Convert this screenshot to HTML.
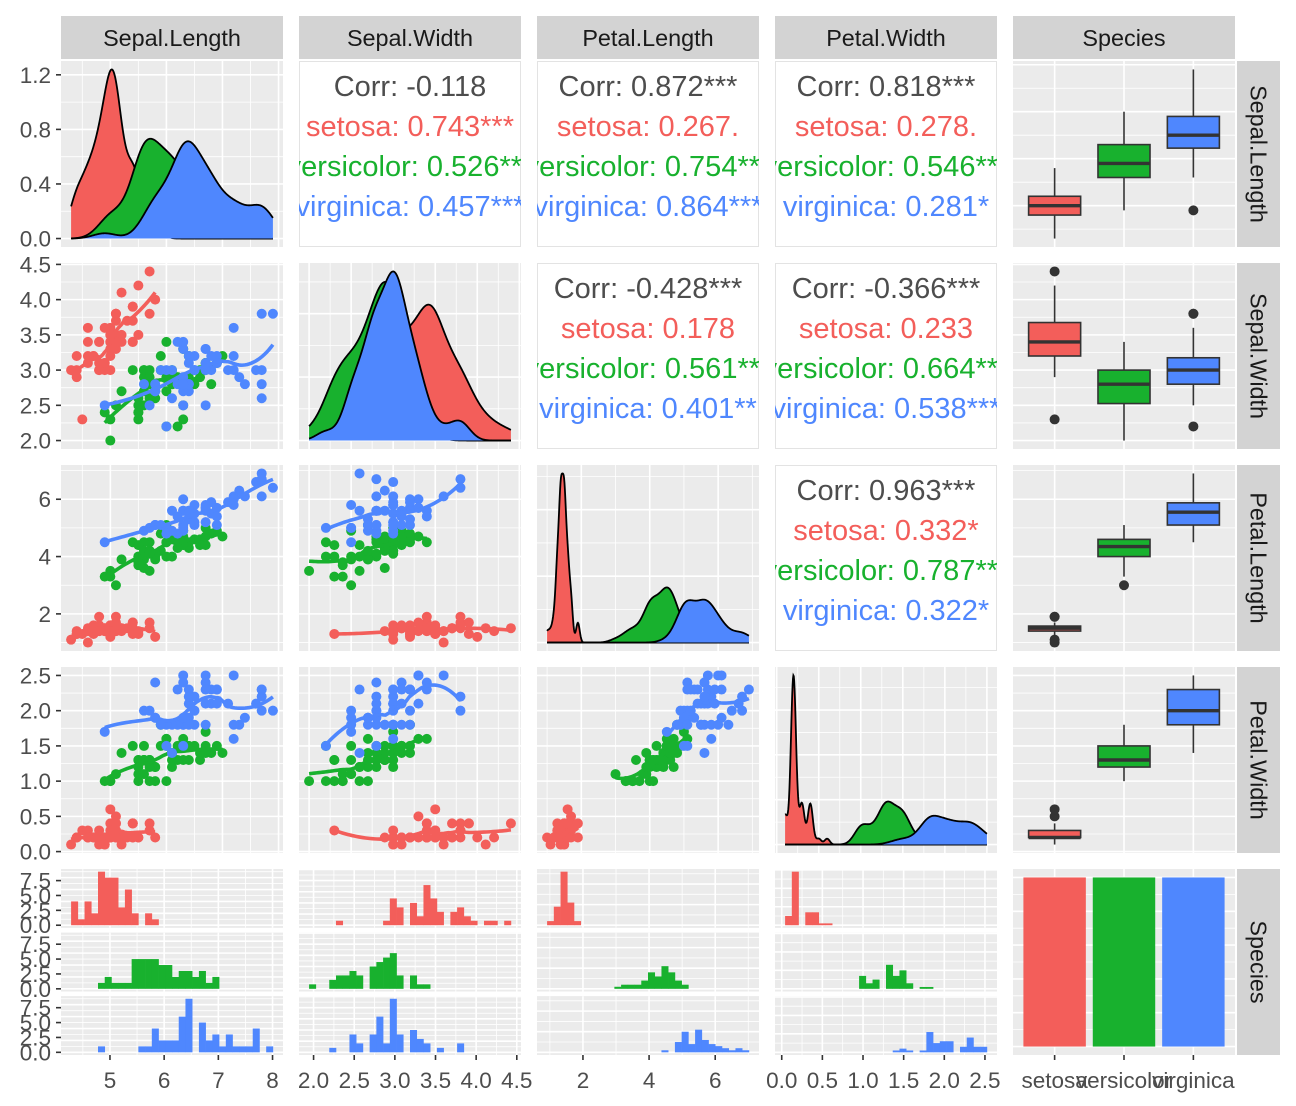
<!DOCTYPE html>
<html><head><meta charset="utf-8"><style>
html,body{margin:0;padding:0;background:#fff;}
svg{display:block;font-family:"Liberation Sans",Arial,sans-serif;}
</style></head><body>
<svg id="chart" width="1296" height="1106" viewBox="0 0 1296 1106" xmlns="http://www.w3.org/2000/svg"></svg>
<script>
// ---------------- data (iris) ----------------
const sepalLength=[5.1,4.9,4.7,4.6,5.0,5.4,4.6,5.0,4.4,4.9,5.4,4.8,4.8,4.3,5.8,5.7,5.4,5.1,5.7,5.1,5.4,5.1,4.6,5.1,4.8,5.0,5.0,5.2,5.2,4.7,4.8,5.4,5.2,5.5,4.9,5.0,5.5,4.9,4.4,5.1,5.0,4.5,4.4,5.0,5.1,4.8,5.1,4.6,5.3,5.0,
7.0,6.4,6.9,5.5,6.5,5.7,6.3,4.9,6.6,5.2,5.0,5.9,6.0,6.1,5.6,6.7,5.6,5.8,6.2,5.6,5.9,6.1,6.3,6.1,6.4,6.6,6.8,6.7,6.0,5.7,5.5,5.5,5.8,6.0,5.4,6.0,6.7,6.3,5.6,5.5,5.5,6.1,5.8,5.0,5.6,5.7,5.7,6.2,5.1,5.7,
6.3,5.8,7.1,6.3,6.5,7.6,4.9,7.3,6.7,7.2,6.5,6.4,6.8,5.7,5.8,6.4,6.5,7.7,7.7,6.0,6.9,5.6,7.7,6.3,6.7,7.2,6.2,6.1,6.4,7.2,7.4,7.9,6.4,6.3,6.1,7.7,6.3,6.4,6.0,6.9,6.7,6.9,5.8,6.8,6.7,6.7,6.3,6.5,6.2,5.9];
const sepalWidth=[3.5,3.0,3.2,3.1,3.6,3.9,3.4,3.4,2.9,3.1,3.7,3.4,3.0,3.0,4.0,4.4,3.9,3.5,3.8,3.8,3.4,3.7,3.6,3.3,3.4,3.0,3.4,3.5,3.4,3.2,3.1,3.4,4.1,4.2,3.1,3.2,3.5,3.6,3.0,3.4,3.5,2.3,3.2,3.5,3.8,3.0,3.8,3.2,3.7,3.3,
3.2,3.2,3.1,2.3,2.8,2.8,3.3,2.4,2.9,2.7,2.0,3.0,2.2,2.9,2.9,3.1,3.0,2.7,2.2,2.5,3.2,2.8,2.5,2.8,2.9,3.0,2.8,3.0,2.9,2.6,2.4,2.4,2.7,2.7,3.0,3.4,3.1,2.3,3.0,2.5,2.6,3.0,2.6,2.3,2.7,3.0,2.9,2.9,2.5,2.8,
3.3,2.7,3.0,2.9,3.0,3.0,2.5,2.9,2.5,3.6,3.2,2.7,3.0,2.5,2.8,3.2,3.0,3.8,2.6,2.2,3.2,2.8,2.8,2.7,3.3,3.2,2.8,3.0,2.8,3.0,2.8,3.8,2.8,2.8,2.6,3.0,3.4,3.1,3.0,3.1,3.1,3.1,2.7,3.2,3.3,3.0,2.5,3.0,3.4,3.0];
const petalLength=[1.4,1.4,1.3,1.5,1.4,1.7,1.4,1.5,1.4,1.5,1.5,1.6,1.4,1.1,1.2,1.5,1.3,1.4,1.7,1.5,1.7,1.5,1.0,1.7,1.9,1.6,1.6,1.5,1.4,1.6,1.6,1.5,1.5,1.4,1.5,1.2,1.3,1.4,1.3,1.5,1.3,1.3,1.3,1.6,1.9,1.4,1.6,1.4,1.5,1.4,
4.7,4.5,4.9,4.0,4.6,4.5,4.7,3.3,4.6,3.9,3.5,4.2,4.0,4.7,3.6,4.4,4.5,4.1,4.5,3.9,4.8,4.0,4.9,4.7,4.3,4.4,4.8,5.0,4.5,3.5,3.8,3.7,3.9,5.1,4.5,4.5,4.7,4.4,4.1,4.0,4.4,4.6,4.0,3.3,4.2,4.2,4.2,4.3,3.0,4.1,
6.0,5.1,5.9,5.6,5.8,6.6,4.5,6.3,5.8,6.1,5.1,5.3,5.5,5.0,5.1,5.3,5.5,6.7,6.9,5.0,5.7,4.9,6.7,4.9,5.7,6.0,4.8,4.9,5.6,5.8,6.1,6.4,5.6,5.1,5.6,6.1,5.6,5.5,4.8,5.4,5.6,5.1,5.1,5.9,5.7,5.2,5.0,5.2,5.4,5.1];
const petalWidth=[0.2,0.2,0.2,0.2,0.2,0.4,0.3,0.2,0.2,0.1,0.2,0.2,0.1,0.1,0.2,0.4,0.4,0.3,0.3,0.3,0.2,0.4,0.2,0.5,0.2,0.2,0.4,0.2,0.2,0.2,0.2,0.4,0.1,0.2,0.2,0.2,0.2,0.1,0.2,0.2,0.3,0.3,0.2,0.6,0.4,0.3,0.2,0.2,0.2,0.2,
1.4,1.5,1.5,1.3,1.5,1.3,1.6,1.0,1.3,1.4,1.0,1.5,1.0,1.4,1.3,1.4,1.5,1.0,1.5,1.1,1.8,1.3,1.5,1.2,1.3,1.4,1.4,1.7,1.5,1.0,1.1,1.0,1.2,1.6,1.5,1.6,1.5,1.3,1.3,1.3,1.2,1.4,1.2,1.0,1.3,1.2,1.3,1.3,1.1,1.3,
2.5,1.9,2.1,1.8,2.2,2.1,1.7,1.8,1.8,2.5,2.0,1.9,2.1,2.0,2.4,2.3,1.8,2.2,2.3,1.5,2.3,2.0,2.0,1.8,2.1,1.8,1.8,1.8,2.1,1.6,1.9,2.0,2.2,1.5,1.4,2.3,2.4,1.8,1.8,2.1,2.4,2.3,1.9,2.3,2.5,2.3,1.9,2.0,2.3,1.8];
const speciesNames=["setosa","versicolor","virginica"];
const speciesCounts=[50,50,50];
const varNames=["Sepal.Length","Sepal.Width","Petal.Length","Petal.Width","Species"];
const corrTotal={"0,1":"Corr: -0.118","0,2":"Corr: 0.872***","0,3":"Corr: 0.818***","1,2":"Corr: -0.428***","1,3":"Corr: -0.366***","2,3":"Corr: 0.963***"};
const corrGroups={"0,1":["setosa: 0.743***","versicolor: 0.526***","virginica: 0.457***"],
"0,2":["setosa: 0.267.","versicolor: 0.754***","virginica: 0.864***"],
"0,3":["setosa: 0.278.","versicolor: 0.546***","virginica: 0.281*"],
"1,2":["setosa: 0.178","versicolor: 0.561***","virginica: 0.401**"],
"1,3":["setosa: 0.233","versicolor: 0.664***","virginica: 0.538***"],
"2,3":["setosa: 0.332*","versicolor: 0.787***","virginica: 0.322*"]};
</script>
<script>
const NS='http://www.w3.org/2000/svg';
const svg=document.getElementById('chart');
const COLORS=['#F35E5A','#18B12E','#4F87FE'];
const vars=[sepalLength,sepalWidth,petalLength,petalWidth];
const species=[];speciesCounts.forEach((c,i)=>{for(let k=0;k<c;k++)species.push(i);});
const colX=[61,299,537,775,1013],rowY=[61,263,465,667,869],PW_=222,PH=186;
const TICKF=22.5,STRIPF=23.4,CORRF=29;
function mk(tag,attrs,parent){const e=document.createElementNS(NS,tag);for(const k in attrs)e.setAttribute(k,attrs[k]);(parent||svg).appendChild(e);return e;}
function lin(d0,d1,r0,r1){return v=>r0+(v-d0)/(d1-d0)*(r1-r0);}
function rng(a){return [Math.min(...a),Math.max(...a)];}
function expand(lo,hi){const d=(hi-lo)*0.05;return [lo-d,hi+d];}
function groupVals(v,g){return v.filter((_,i)=>species[i]===g);}
function pretty(lo,hi){const raw=(hi-lo)/4;const p=Math.pow(10,Math.floor(Math.log10(raw)));let st=p;for(const m of [1,2,2.5,5,10]){if(m*p>=raw*0.75){st=m*p;break;}}const b=[];for(let v=Math.ceil(lo/st-1e-9)*st;v<=hi+1e-9;v+=st)b.push(+v.toFixed(10));return b;}
function minors(b,lo,hi){const m=[];const st=b[1]-b[0];const all=[b[0]-st/2,...b.map(x=>x+st/2)];all.forEach(v=>{if(v>lo&&v<hi)m.push(v);});return m;}
function fmt(b){const st=b.length>1?b[1]-b[0]:1;const dec=(Math.abs(st-Math.round(st))<1e-9 && b.every(x=>Math.abs(x-Math.round(x))<1e-9))?0:(Math.abs(st*10-Math.round(st*10))<1e-9?1:2);return b.map(x=>x.toFixed(dec));}
function quant(s,p){const h=(s.length-1)*p;const l=Math.floor(h);return s[l]+(h-l)*((s[Math.min(l+1,s.length-1)])-s[l]);}
let clipId=0;
function panel(x,y,w,h,name,xs,xb,xm,ys,yb,ym,bg){
  const g=mk('g',{});
  
  
  const id='c'+(clipId++);
  const cp=mk('clipPath',{id:id},g);mk('rect',{x:x,y:y,width:w,height:h},cp);
  const r=mk('rect',{x:x,y:y,width:w,height:h,fill:bg||'#EBEBEB'},g);
  
  
  const inner=mk('g',{'clip-path':'url(#'+id+')'},g);
  (xm||[]).forEach(v=>mk('line',{x1:xs(v),x2:xs(v),y1:y,y2:y+h,stroke:'#fff','stroke-width':0.8},inner));
  (ym||[]).forEach(v=>mk('line',{x1:x,x2:x+w,y1:ys(v),y2:ys(v),stroke:'#fff','stroke-width':0.8},inner));
  (xb||[]).forEach(v=>mk('line',{x1:xs(v),x2:xs(v),y1:y,y2:y+h,stroke:'#fff','stroke-width':1.6},inner));
  (yb||[]).forEach(v=>mk('line',{x1:x,x2:x+w,y1:ys(v),y2:ys(v),stroke:'#fff','stroke-width':1.6},inner));
  return inner;
}
function leftAxis(ys,b,labels,name){
  const g=mk('g',{});
  
  
  b.forEach((v,i)=>{mk('line',{x1:56,x2:61,y1:ys(v),y2:ys(v),stroke:'#333','stroke-width':1.6},g);
    const t=mk('text',{x:51,y:ys(v)+8,'text-anchor':'end','font-size':TICKF,fill:'#4D4D4D'},g);t.textContent=labels[i];});
}
function bottomAxis(xs,b,labels,name){
  const g=mk('g',{});
  
  
  b.forEach((v,i)=>{mk('line',{x1:xs(v),x2:xs(v),y1:1055,y2:1060,stroke:'#333','stroke-width':1.6},g);
    const t=mk('text',{x:xs(v),y:1088,'text-anchor':'middle','font-size':TICKF,fill:'#4D4D4D'},g);t.textContent=labels[i];});
}
// variable scales
const vr=vars.map(v=>rng(v));const ve=vr.map(r=>expand(r[0],r[1]));
const vb=[[5,6,7,8],[2,2.5,3,3.5,4,4.5],[2,4,6],[0,0.5,1,1.5,2,2.5]];
const vm=vb.map((b,i)=>minors(b,ve[i][0],ve[i][1]));
const xsc=ve.map((e,j)=>lin(e[0],e[1],colX[j],colX[j]+PW_));
const ysc=ve.map((e,i)=>lin(e[0],e[1],rowY[i]+PH,rowY[i]));
// histogram bin layout per variable (ggplot stat_bin bins=30)
const hb=vr.map(r=>{const w=(r[1]-r[0])/29;const start=Math.floor((r[0]-w/2)/w)*w+w/2;const nb=Math.ceil((r[1]-start)/w-1e-9);return {w:w,start:start,nb:nb,end:start+nb*w};});
const hxe=hb.map(h=>expand(h.start,h.end));
const hxs=hxe.map((e,j)=>lin(e[0],e[1],colX[j],colX[j]+PW_));
const hxm=vb.map((b,j)=>minors(b,hxe[j][0],hxe[j][1]));
// strips
varNames.forEach((n,j)=>{const r=mk('rect',{x:colX[j],y:16,width:PW_,height:43,fill:'#D3D3D3'});
  
  
  const t=mk('text',{x:colX[j]+PW_/2,y:46,'text-anchor':'middle','font-size':STRIPF,fill:'#1A1A1A'});t.textContent=n;
  
  
  const r2=mk('rect',{x:1237,y:rowY[j],width:43,height:PH,fill:'#D3D3D3'});
  
  
  const cx=1258.5,cy=rowY[j]+PH/2;
  const t2=mk('text',{x:cx,y:cy,'text-anchor':'middle','font-size':STRIPF,fill:'#1A1A1A',transform:`rotate(90 ${cx} ${cy}) translate(0 8)`});t2.textContent=n;
  
  
});
// KDE
function kde(v,xs){const n=v.length;const m=v.reduce((a,b)=>a+b)/n;const sd=Math.sqrt(v.reduce((a,b)=>a+(b-m)*(b-m),0)/(n-1));
  const s=[...v].sort((a,b)=>a-b);const iqr=quant(s,0.75)-quant(s,0.25);const bw=0.9*Math.min(sd,iqr/1.34)*Math.pow(n,-0.2);
  return xs.map(x=>{let t=0;v.forEach(a=>{const z=(x-a)/bw;t+=Math.exp(-0.5*z*z);});return t/(n*bw*Math.sqrt(2*Math.PI));});}
// loess
function loess(xv,yv,x0s){const n=xv.length;const q=Math.floor(0.75*n);
  return x0s.map(x0=>{const d=xv.map(x=>Math.abs(x-x0));const ds=[...d].sort((a,b)=>a-b);const dm=ds[q-1]||1e-9;
    let S=[[0,0,0],[0,0,0],[0,0,0]],B=[0,0,0];
    for(let i=0;i<n;i++){let u=d[i]/dm;if(u>=1)continue;const w=Math.pow(1-u*u*u,3);const t=xv[i]-x0;const p=[1,t,t*t];
      for(let a=0;a<3;a++){B[a]+=w*p[a]*yv[i];for(let b=0;b<3;b++)S[a][b]+=w*p[a]*p[b];}}
    const M=S.map((r,i)=>[...r,B[i]]);
    for(let c=0;c<3;c++){let p=c;for(let r=c+1;r<3;r++)if(Math.abs(M[r][c])>Math.abs(M[p][c]))p=r;[M[c],M[p]]=[M[p],M[c]];
      if(Math.abs(M[c][c])<1e-12)continue;for(let r=0;r<3;r++){if(r===c)continue;const f=M[r][c]/M[c][c];for(let k=c;k<4;k++)M[r][k]-=f*M[c][k];}}
    return M[0][3]/M[0][0];});}
const subTops=[869,932.6,996.1],subH=58.9;
for(let i=0;i<5;i++)for(let j=0;j<5;j++){
  const x=colX[j],y=rowY[i];
  if(i<4&&j<4&&i===j){
    const v=vars[j];const gx=[];for(let k=0;k<512;k++)gx.push(vr[j][0]+(vr[j][1]-vr[j][0])*k/511);
    const ds=[0,1,2].map(g=>kde(groupVals(v,g),gx));const mx=Math.max(...ds.flat());
    const ye=[-0.05*mx,mx*1.05];const ys=lin(ye[0],ye[1],y+PH,y);
    let yb=pretty(0,mx*1.05);if(j===0)yb=[0,0.4,0.8,1.2];
    const inner=panel(x,y,PW_,PH,'density-'+varNames[j].toLowerCase().replace('.','-'),xsc[j],vb[j],vm[j],ys,yb,minors(yb,ye[0],ye[1]));
    ds.forEach((d,g)=>{const pts=gx.map((gv,k)=>xsc[j](gv).toFixed(2)+','+ys(d[k]).toFixed(2));
      const pg=mk('polygon',{points:pts.join(' ')+' '+xsc[j](gx[511]).toFixed(2)+','+ys(0)+' '+xsc[j](gx[0]).toFixed(2)+','+ys(0),fill:COLORS[g]},inner);
      
      
      const pl=mk('polyline',{points:pts.join(' '),fill:'none',stroke:'#000','stroke-width':1.8},inner);
      
      });
    if(j===0)leftAxis(ys,yb,['0.0','0.4','0.8','1.2'],'y-axis-density');
  } else if(i<4&&j<4&&i>j){
    const inner=panel(x,y,PW_,PH,'scatter-'+i+'-'+j,xsc[j],vb[j],vm[j],ysc[i],vb[i],vm[i]);
    for(let g=0;g<3;g++){const xv=groupVals(vars[j],g),yv=groupVals(vars[i],g);
      xv.forEach((xx,k)=>{const c=mk('circle',{cx:xsc[j](xx),cy:ysc[i](yv[k]),r:5,fill:COLORS[g]},inner);
        
        });
      const r=rng(xv);const x0s=[];for(let k=0;k<80;k++)x0s.push(r[0]+(r[1]-r[0])*k/79);
      const fy=loess(xv,yv,x0s);
      const pl=mk('polyline',{points:x0s.map((xx,k)=>xsc[j](xx).toFixed(2)+','+ysc[i](fy[k]).toFixed(2)).join(' '),fill:'none',stroke:COLORS[g],'stroke-width':3.6},inner);
      
      }
  } else if(i<4&&j<4&&i<j){
    const g0=mk('g',{});
    
    
    const id='c'+(clipId++);const cp=mk('clipPath',{id:id},g0);mk('rect',{x:x,y:y,width:PW_,height:PH},cp);
    mk('rect',{x:x+0.5,y:y+0.5,width:PW_-1,height:PH-1,fill:'#fff',stroke:'#E3E3E3','stroke-width':1},g0);
    const inner=mk('g',{'clip-path':'url(#'+id+')'},g0);
    const key=i+','+j;const lines=[corrTotal[key],...corrGroups[key]];const cols=['#4D4D4D',...COLORS];
    lines.forEach((s,k)=>{const t=mk('text',{x:x+PW_/2,y:y+35+40*k,'text-anchor':'middle','font-size':CORRF,fill:cols[k]},inner);t.textContent=s;
      
      });
  } else if(j===4&&i<4){
    const cx=lin(0.4,3.6,x,x+PW_);
    const inner=panel(x,y,PW_,PH,'boxplot-'+varNames[i].toLowerCase().replace('.','-'),cx,[1,2,3],[],ysc[i],vb[i],vm[i]);
    for(let g=0;g<3;g++){const s=groupVals(vars[i],g).sort((a,b)=>a-b);
      const q1=quant(s,0.25),q2=quant(s,0.5),q3=quant(s,0.75),iq=q3-q1;
      const lo=s.find(v=>v>=q1-1.5*iq),hi=[...s].reverse().find(v=>v<=q3+1.5*iq);
      const c=cx(g+1),hw=0.375*(PW_/3.2);
      const bg=mk('g',{},inner);
      
      
      mk('line',{x1:c,x2:c,y1:ysc[i](hi),y2:ysc[i](q3),stroke:'#333','stroke-width':1.6},bg);
      mk('line',{x1:c,x2:c,y1:ysc[i](q1),y2:ysc[i](lo),stroke:'#333','stroke-width':1.6},bg);
      mk('rect',{x:c-hw,y:ysc[i](q3),width:2*hw,height:ysc[i](q1)-ysc[i](q3),fill:COLORS[g],stroke:'#333','stroke-width':1.6},bg);
      mk('line',{x1:c-hw,x2:c+hw,y1:ysc[i](q2),y2:ysc[i](q2),stroke:'#333','stroke-width':3.4},bg);
      s.filter(v=>v<lo||v>hi).forEach(v=>mk('circle',{cx:c,cy:ysc[i](v),r:5,fill:'#333'},bg));}
  } else if(i===4&&j<4){
    const gg=mk('g',{});
    
    
    const v=vars[j];const h=hb[j];const xs=hxs[j];
    const counts=[0,1,2].map(g=>{const cnt=new Array(h.nb).fill(0);groupVals(v,g).forEach(a=>{let k=Math.ceil((a-h.start)/h.w-0.03)-1;k=Math.max(0,Math.min(h.nb-1,k));cnt[k]++;});return cnt;});
    const hmax=Math.max(...counts.flat());
    for(let g=0;g<3;g++){const st=subTops[g];const ys=lin(-0.05*hmax,hmax*1.05,st+subH,st);
      const yb=pretty(0,hmax*1.05);
      const inner=panel(x,st,PW_,subH,'histogram-'+speciesNames[g],xs,vb[j],hxm[j],ys,yb,minors(yb,-0.05*hmax,hmax*1.05));
      counts[g].forEach((c,k)=>{if(!c)return;const b=mk('rect',{x:xs(h.start+k*h.w),y:ys(c),width:xs(h.start+(k+1)*h.w)-xs(h.start+k*h.w)+0.3,height:ys(0)-ys(c),fill:COLORS[g]},inner);
        
        });
      if(j===0)leftAxis(ys,[0,2.5,5,7.5],['0.0','2.5','5.0','7.5'],'y-axis-count-'+speciesNames[g]);}
    bottomAxis(xs,vb[j],fmt(vb[j]),'x-axis-'+varNames[j].toLowerCase().replace('.','-'));
  } else {
    const cx=lin(0.4,3.6,x,x+PW_);const ys=lin(-2.5,52.5,y+PH,y);
    const inner=panel(x,y,PW_,PH,'species-bar-panel',cx,[1,2,3],[],ys,[0,10,20,30,40,50],[5,15,25,35,45]);
    speciesCounts.forEach((c,g)=>{const hw=0.45*(PW_/3.2);const b=mk('rect',{x:cx(g+1)-hw,y:ys(c),width:2*hw,height:ys(0)-ys(c),fill:COLORS[g]},inner);
      
      });
  }
}
for(let i=1;i<4;i++)leftAxis(ysc[i],vb[i],fmt(vb[i]),'y-axis-'+varNames[i].toLowerCase().replace('.','-'));
bottomAxis(lin(0.4,3.6,colX[4],colX[4]+PW_),[1,2,3],speciesNames,'x-axis-species');
</script>
</body></html>
